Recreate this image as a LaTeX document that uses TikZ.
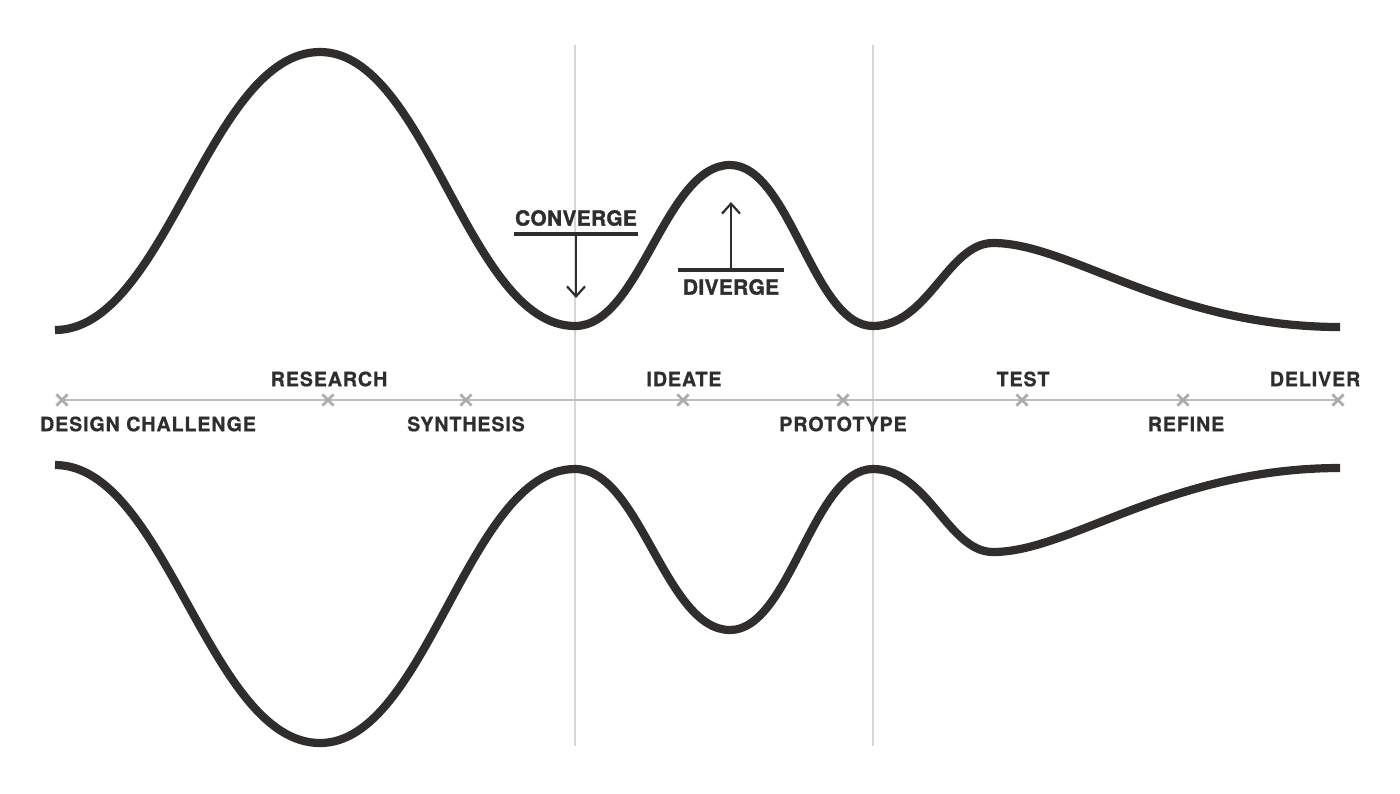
\documentclass[tikz,border=0pt]{standalone}
\usepackage{fontspec}
\usetikzlibrary{shapes.misc,arrows.meta}
\newfontfamily\labfont{TeX Gyre Heros}[LetterSpace=4,FakeBold=0.6]
\newfontfamily\headfont{TeX Gyre Heros}[LetterSpace=2,FakeBold=1.6]
\definecolor{ink}{HTML}{302D2D}
\definecolor{guide}{HTML}{D6D6D6}
\definecolor{tline}{HTML}{BDBDBD}
\definecolor{xmk}{HTML}{ABABAB}
\tikzset{
  wave/.style={draw=ink, line width=4.1pt, line cap=butt},
  guideline/.style={draw=guide, line width=0.6pt},
  timeline/.style={draw=tline, line width=0.8pt},
  xmark/.style={cross out, draw=xmk, line width=1.4pt, minimum size=4.2pt, inner sep=0pt},
  lab/.style={text=ink, font=\labfont\bfseries\fontsize{9.9}{11}\selectfont, inner sep=0pt},
  head/.style={text=ink, font=\headfont\bfseries\fontsize{10.4}{12}\selectfont, inner sep=0pt},
  bar/.style={draw=ink, line width=1.6pt},
  ptr/.style={draw=ink, line width=1.1pt, -{Straight Barb[length=5pt,width=9pt,line width=1.1pt]}},
}
\newcommand{\wavepath}{(55,330) .. controls (166,330) and (209,52) .. (320,52)
  .. controls (427,52) and (468,326) .. (575,326)
  .. controls (640,326) and (665,165) .. (730,165)
  .. controls (790,165) and (813,326) .. (873,326)
  .. controls (928,326) and (948,243) .. (993,243)
  .. controls (1070,243) and (1170,327) .. (1340,327)}
\begin{document}
\begin{tikzpicture}[x=0.5pt,y=-0.5pt]
\useasboundingbox (0,0) rectangle (1400,793);
% vertical guides
\coordinate (g1t) at (575,45); \coordinate (g1b) at (575,746);
\coordinate (g2t) at (873,45); \coordinate (g2b) at (873,746);
\draw[guideline] (g1t) -- (g1b);
\draw[guideline] (g2t) -- (g2b);
% waves
\draw[wave] \wavepath;
\begin{scope}[shift={(0,795)},yscale=-1]
\draw[wave] \wavepath;
\end{scope}
% timeline
\coordinate (t0) at (62,400); \coordinate (t1) at (1338,400);
\draw[timeline] (t0) -- (t1);
\foreach \n/\x in {1/62,2/328,3/466,4/683,5/843,6/1022,7/1183,8/1338}{
  \node[xmark] (m\n) at (\x,400) {};
}
% labels
\node[lab] (research) at (329,379) {RESEARCH};
\node[lab] (ideate) at (684,379) {IDEATE};
\node[lab] (test) at (1023,379) {TEST};
\node[lab] (deliver) at (1315,379) {DELIVER};
\node[lab] (design) at (148,424) {DESIGN CHALLENGE};
\node[lab] (synth) at (466,424) {SYNTHESIS};
\node[lab] (proto) at (843,424) {PROTOTYPE};
\node[lab] (refine) at (1186,424) {REFINE};
% converge
\node[head] (conv) at (576,218) {CONVERGE};
\coordinate (cl) at (514,234); \coordinate (cr) at (638,234);
\coordinate (cm) at (576,234); \coordinate (ce) at (576,298);
\draw[bar] (cl) -- (cr);
\draw[ptr] (cm) -- (ce);
% diverge
\node[head] (div) at (731,287) {DIVERGE};
\coordinate (dl) at (678,270); \coordinate (dr) at (784,270);
\coordinate (dm) at (731,270); \coordinate (de) at (731,202);
\draw[bar] (dl) -- (dr);
\draw[ptr] (dm) -- (de);
\end{tikzpicture}
\end{document}
